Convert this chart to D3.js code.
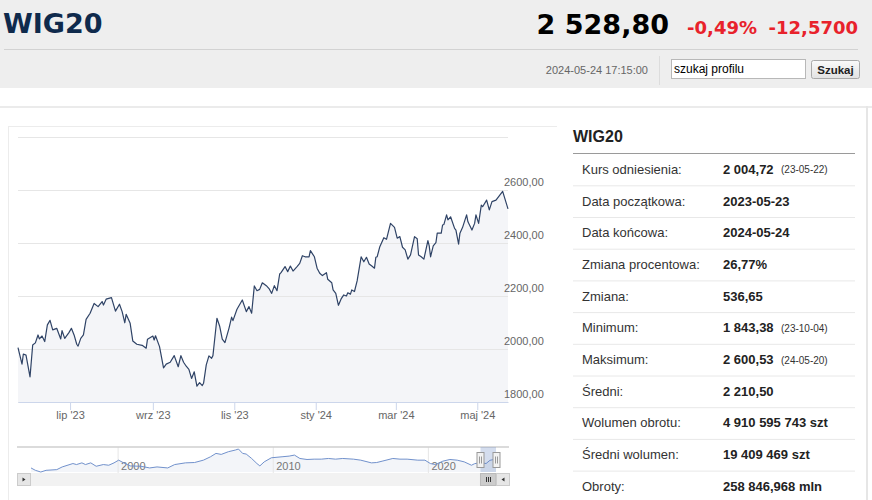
<!DOCTYPE html>
<html lang="pl">
<head>
<meta charset="utf-8">
<title>WIG20</title>
<script src="https://cdn.jsdelivr.net/npm/d3@7"></script>
<style>
  html, body { margin: 0; padding: 0; background: #fff; }
  svg { display: block; }
</style>
</head>
<body>
<div id="page"></div>
<script>
// 1. Data
const priceDates = [
  "2023-05-23","2023-05-26","2023-05-27","2023-05-29","2023-06-01","2023-06-03","2023-06-05","2023-06-07",
  "2023-06-08","2023-06-10","2023-06-12","2023-06-14","2023-06-16","2023-06-18","2023-06-21","2023-06-24",
  "2023-06-25","2023-06-27","2023-06-30","2023-07-02","2023-07-04","2023-07-06","2023-07-07","2023-07-09",
  "2023-07-11","2023-07-13","2023-07-16","2023-07-19","2023-07-22","2023-07-25","2023-07-26","2023-07-28",
  "2023-08-01","2023-08-04","2023-08-07","2023-08-09","2023-08-11","2023-08-12","2023-08-15","2023-08-17",
  "2023-08-20","2023-08-24","2023-08-27","2023-08-28","2023-09-01","2023-09-02","2023-09-03","2023-09-06",
  "2023-09-09","2023-09-11","2023-09-14","2023-09-17","2023-09-20","2023-09-22","2023-09-24","2023-09-26",
  "2023-09-28","2023-09-30","2023-10-02","2023-10-04","2023-10-06","2023-10-08","2023-10-09","2023-10-11",
  "2023-10-13","2023-10-15","2023-10-16","2023-10-19","2023-10-21","2023-10-23","2023-10-25","2023-10-28",
  "2023-10-30","2023-10-31","2023-11-03","2023-11-07","2023-11-10","2023-11-12","2023-11-14","2023-11-16",
  "2023-11-18","2023-11-20","2023-11-22","2023-11-25","2023-11-27","2023-11-29","2023-12-01","2023-12-03",
  "2023-12-05","2023-12-06","2023-12-09","2023-12-11","2023-12-13","2023-12-15","2023-12-18","2023-12-20",
  "2023-12-22","2023-12-24","2023-12-27","2023-12-28","2023-12-31","2024-01-02","2024-01-04","2024-01-06",
  "2024-01-09","2024-01-10","2024-01-13","2024-01-14","2024-01-16","2024-01-18","2024-01-20","2024-01-22",
  "2024-01-24","2024-01-25","2024-01-27","2024-01-28","2024-01-30","2024-02-01","2024-02-04","2024-02-06",
  "2024-02-08","2024-02-10","2024-02-12","2024-02-14","2024-02-15","2024-02-16","2024-02-18","2024-02-21",
  "2024-02-23","2024-02-26","2024-02-29","2024-03-02","2024-03-04","2024-03-06","2024-03-08","2024-03-10",
  "2024-03-12","2024-03-15","2024-03-17","2024-03-18","2024-03-20","2024-03-22","2024-03-25","2024-03-26",
  "2024-03-27","2024-03-29","2024-03-31","2024-04-01","2024-04-04","2024-04-05","2024-04-06","2024-04-08",
  "2024-04-09","2024-04-11","2024-04-14","2024-04-15","2024-04-17","2024-04-18","2024-04-20","2024-04-23",
  "2024-04-24","2024-04-27","2024-04-29","2024-04-30","2024-05-02","2024-05-04","2024-05-05","2024-05-08",
  "2024-05-10","2024-05-12","2024-05-15","2024-05-20","2024-05-22","2024-05-24"
];
const priceValues = [
  2005,1943,1981,1977,1895,2015,2023,2053,
  2038,2049,2028,2091,2108,2072,2078,2038,
  2069,2040,2061,2078,2053,2018,2011,2040,
  2053,2112,2135,2172,2160,2179,2166,2188,
  2194,2143,2169,2141,2099,2131,2097,2030,
  2018,2014,2003,2037,2049,2034,2050,2009,
  1929,1943,1950,1975,1933,1975,1950,1935,
  1923,1889,1914,1860,1873,1862,1871,1940,
  1974,1965,1975,2116,2087,2037,2024,2078,
  2120,2107,2150,2185,2141,2160,2135,2238,
  2220,2225,2250,2239,2228,2210,2239,2220,
  2283,2288,2311,2292,2313,2294,2311,2323,
  2352,2348,2348,2371,2348,2305,2286,2277,
  2288,2263,2250,2223,2210,2165,2189,2204,
  2200,2212,2207,2223,2217,2257,2348,2329,
  2346,2321,2313,2305,2346,2348,2386,2420,
  2414,2474,2459,2418,2424,2384,2374,2339,
  2355,2424,2416,2355,2348,2339,2409,2389,
  2348,2389,2401,2437,2437,2468,2470,2506,
  2487,2499,2455,2449,2396,2437,2459,2506,
  2480,2449,2474,2506,2474,2543,2537,2562,
  2525,2556,2562,2595,2562,2529
];

// long history shown in the navigator (fractional years)
const navYears = [
  1994.42,1994.70,1995.05,1995.39,1996.08,1996.43,1997.12,1997.35,1997.70,1997.93,
  1998.27,1998.62,1999.08,1999.43,1999.77,2000.07,2000.35,2000.81,2001.50,2002.07,
  2002.54,2003.23,2003.68,2004.37,2004.96,2005.53,2005.99,2006.34,2006.68,2007.14,
  2007.60,2007.79,2008.06,2008.29,2008.64,2008.98,2009.17,2009.45,2009.91,2010.60,
  2011.06,2011.40,2011.75,2012.21,2012.67,2013.13,2013.59,2014.05,2014.51,2015.20,
  2015.67,2016.36,2016.70,2017.05,2017.74,2018.20,2018.66,2019.35,2019.81,2020.16,
  2020.50,2020.96,2021.42,2021.89,2022.34,2022.81,2023.00,2023.20,2023.39,2023.75,
  2024.00,2024.20,2024.39
];
const navValues = [
  1268,938,704,938,1033,1409,1879,1738,1973,1738,
  1973,1503,1738,1644,1973,2349,2020,1550,1503,1268,
  1409,1268,1738,1973,2020,2349,2819,3289,3148,3524,
  3759,3900,3289,3195,2584,1879,1550,2114,2678,2819,
  2913,3054,2584,2443,2490,2490,2584,2490,2584,2490,
  2349,1973,2020,2208,2584,2490,2490,2349,2349,1879,
  1738,2208,2443,2349,2114,1644,1850,1950,2005,1880,
  2330,2420,2529
];
const navYearTicks = [2000, 2010, 2020];
const navRange = [2023.39, 2024.39];

const yTicks = [1800, 2000, 2200, 2400, 2600, 2800];
const monthNames = ["sty","lut","mar","kwi","maj","cze","lip","sie","wrz","paź","lis","gru"];

const statLabels = ["Kurs odniesienia:","Data początkowa:","Data końcowa:","Zmiana procentowa:","Zmiana:",
  "Minimum:","Maksimum:","Średni:","Wolumen obrotu:","Średni wolumen:","Obroty:"];
const statValues = ["2 004,72","2023-05-23","2024-05-24","26,77%","536,65",
  "1 843,38","2 600,53","2 210,50","4 910 595 743 szt","19 409 469 szt","258 846,968 mln"];
const statNotes = ["(23-05-22)","","","","","(23-10-04)","(24-05-20)","","","",""];

const W = 872, H = 500;
const sans = "'Liberation Sans', Arial, sans-serif";
const verd = "'DejaVu Sans', Verdana, sans-serif";

const svg = d3.select("#page").append("svg").attr("width", W).attr("height", H);

// 2. Header
svg.append("rect").attr("x", 0).attr("y", 0).attr("width", W).attr("height", 88).attr("fill", "#eeeeee");
svg.append("text").attr("x", 3).attr("y", 32.5)
  .style("font-family", verd).style("font-size", "27px").style("font-weight", "bold").style("fill", "#0f2a4c")
  .text("WIG20");
svg.append("text").attr("x", 669).attr("y", 33.5).attr("text-anchor", "end")
  .style("font-family", verd).style("font-size", "27px").style("font-weight", "bold").style("fill", "#000")
  .text("2 528,80");
svg.append("text").attr("x", 757).attr("y", 33.5).attr("text-anchor", "end")
  .style("font-family", verd).style("font-size", "18px").style("font-weight", "bold").style("fill", "#e8222b")
  .text("-0,49%");
svg.append("text").attr("x", 858).attr("y", 33.5).attr("text-anchor", "end")
  .style("font-family", verd).style("font-size", "18px").style("font-weight", "bold").style("fill", "#e8222b")
  .text("-12,5700");
svg.append("line").attr("x1", 4).attr("x2", 858).attr("y1", 49.5).attr("y2", 49.5)
  .attr("stroke", "#d2d2d2");
svg.append("text").attr("x", 648).attr("y", 74).attr("text-anchor", "end")
  .style("font-family", sans).style("font-size", "11px").style("fill", "#666")
  .text("2024-05-24 17:15:00");
svg.append("line").attr("x1", 659.5).attr("x2", 659.5).attr("y1", 56).attr("y2", 85)
  .attr("stroke", "#dcdcdc");
svg.append("rect").attr("x", 671.5).attr("y", 59.5).attr("width", 134).attr("height", 19)
  .attr("fill", "#fff").attr("stroke", "#b8b8b8");
svg.append("text").attr("x", 674).attr("y", 73)
  .style("font-family", sans).style("font-size", "12px").style("fill", "#000")
  .text("szukaj profilu");
const grad = svg.append("defs").append("linearGradient").attr("id", "btn")
  .attr("x1", 0).attr("x2", 0).attr("y1", 0).attr("y2", 1);
grad.append("stop").attr("offset", 0).attr("stop-color", "#fafafa");
grad.append("stop").attr("offset", 1).attr("stop-color", "#e2e2e2");
svg.append("rect").attr("x", 811.5).attr("y", 60.5).attr("width", 48).attr("height", 18).attr("rx", 2)
  .attr("fill", "url(#btn)").attr("stroke", "#a9a9a9");
svg.append("text").attr("x", 835.5).attr("y", 73.5).attr("text-anchor", "middle")
  .style("font-family", sans).style("font-size", "11.5px").style("font-weight", "bold").style("fill", "#222")
  .text("Szukaj");

// page frame lines
svg.append("line").attr("x1", 0).attr("x2", W).attr("y1", 107).attr("y2", 107)
  .attr("stroke", "#ebebeb").attr("stroke-width", 2);
svg.append("line").attr("x1", 867).attr("x2", 867).attr("y1", 106).attr("y2", H)
  .attr("stroke", "#e6e6e6").attr("stroke-width", 2);
svg.append("line").attr("x1", 8).attr("x2", 557).attr("y1", 126.5).attr("y2", 126.5)
  .attr("stroke", "#ececec");
svg.append("line").attr("x1", 8.5).attr("x2", 8.5).attr("y1", 126).attr("y2", H)
  .attr("stroke", "#ececec");

// 3. Main chart
const parse = d3.timeParse("%Y-%m-%d");
const prices = priceDates.map((d, i) => ({ date: parse(d), value: priceValues[i] }));

const x = d3.scaleTime()
  .domain([parse("2023-05-23"), parse("2024-05-24")])
  .range([18, 508]);
const y = d3.scaleLinear().domain([1800, 2800]).range([402, 137]);

const pl = d3.formatLocale({ decimal: ",", thousands: " ", grouping: [3], currency: ["", " zł"] });
const fmt2 = pl.format(".2f");

// area under the line first, so grid and labels stay visible
const area = d3.area().x((d) => x(d.date)).y0(y(1800)).y1((d) => y(d.value));
const line = d3.line().x((d) => x(d.date)).y((d) => y(d.value));
svg.append("path").datum(prices).attr("d", area).attr("fill", "#f4f5f8");

// gridlines + labels
const yAxis = svg.append("g")
  .attr("transform", "translate(508,0)")
  .call(d3.axisRight(y).tickValues(yTicks).tickSizeInner(-490).tickSizeOuter(0)
    .tickFormat((d) => (d === 2800 ? "" : fmt2(d))));
yAxis.select(".domain").remove();
yAxis.selectAll(".tick line").attr("stroke", "#e6e6e6");
yAxis.selectAll(".tick text")
  .attr("x", -4).attr("dy", "-0.45em")
  .attr("text-anchor", "start")
  .style("font-family", sans).style("font-size", "11px").style("fill", "#666");

svg.append("path").datum(prices).attr("d", line)
  .attr("fill", "none").attr("stroke", "#2f4366").attr("stroke-width", 1.2)
  .attr("stroke-linejoin", "round");

const xAxis = svg.append("g")
  .attr("transform", "translate(0,402)")
  .call(d3.axisBottom(x).ticks(d3.timeMonth.every(2)).tickSizeInner(8).tickSizeOuter(0)
    .tickFormat((d) => monthNames[d.getMonth()] + " '" + d3.timeFormat("%y")(d)));
xAxis.select(".domain").attr("stroke", "#ccd6eb");
xAxis.selectAll(".tick line").attr("stroke", "#ccd6eb");
xAxis.selectAll(".tick text")
  .attr("y", 9).attr("dy", "0.71em")
  .style("font-family", sans).style("font-size", "11px").style("fill", "#666");

// 4. Navigator
const navX = d3.scaleLinear().domain([1994.29, 2024.39]).range([29, 496]);
const navY = d3.scaleLinear().domain([d3.min(navValues), d3.max(navValues)]).range([472, 449]);
const navData = navYears.map((yr, i) => ({ yr, value: navValues[i] }));

svg.append("path").datum(navData)
  .attr("d", d3.area().x((d) => navX(d.yr)).y0(472).y1((d) => navY(d.value)))
  .attr("fill", "#f3f5f9");

const navAxis = svg.append("g")
  .attr("transform", "translate(0,447)")
  .call(d3.axisBottom(navX).tickValues(navYearTicks).tickSize(26).tickFormat(d3.format("d")));
navAxis.select(".domain").remove();
navAxis.selectAll(".tick line").attr("stroke", "#e6e6e6");
navAxis.selectAll(".tick text")
  .attr("x", 3).attr("y", 23).attr("dy", 0)
  .attr("text-anchor", "start")
  .style("font-family", sans).style("font-size", "11px").style("fill", "#777");

svg.append("path").datum(navData)
  .attr("d", d3.line().x((d) => navX(d.yr)).y((d) => navY(d.value)))
  .attr("fill", "none").attr("stroke", "#7191cc").attr("stroke-width", 1);

svg.append("line").attr("x1", 17).attr("x2", 509).attr("y1", 447).attr("y2", 447)
  .attr("stroke", "#cfcfcf").attr("stroke-width", 1.5);

// selected zone
const m0 = navX(navRange[0]), m1 = navX(navRange[1]);
svg.append("rect").attr("x", m0).attr("y", 447).attr("width", m1 - m0).attr("height", 25)
  .attr("fill", "rgba(102,133,194,0.28)");
[m0, m1].forEach((hx) => {
  const g = svg.append("g").attr("transform", `translate(${Math.round(hx) + 0.5},452.5)`);
  g.append("rect").attr("x", -3.5).attr("y", 0).attr("width", 7).attr("height", 15)
    .attr("fill", "#f2f2f2").attr("stroke", "#999");
  g.append("line").attr("x1", -1).attr("x2", -1).attr("y1", 4).attr("y2", 11).attr("stroke", "#999");
  g.append("line").attr("x1", 1).attr("x2", 1).attr("y1", 4).attr("y2", 11).attr("stroke", "#999");
});

// scrollbar
svg.append("rect").attr("x", 17).attr("y", 473).attr("width", 492).attr("height", 13)
  .attr("fill", "#f2f2f2");
svg.append("rect").attr("x", m0).attr("y", 473.5).attr("width", m1 - m0).attr("height", 12)
  .attr("fill", "#cccccc").attr("stroke", "#bbbbbb");
[-2, 0, 2].forEach((dx) => {
  const cx = Math.round((m0 + m1) / 2) + dx + 0.5;
  svg.append("line").attr("x1", cx).attr("x2", cx).attr("y1", 477).attr("y2", 482).attr("stroke", "#333");
});
[[17, -1], [496, 1]].forEach(([bx, dir]) => {
  svg.append("rect").attr("x", bx + 0.5).attr("y", 473.5).attr("width", 13).attr("height", 12)
    .attr("fill", "#e6e6e6").attr("stroke", "#cccccc");
  const cx = bx + 7, cy = 479.5;
  svg.append("path")
    .attr("d", `M${cx + dir * 1.5},${cy - 2}L${cx - dir * 1.5},${cy}L${cx + dir * 1.5},${cy + 2}Z`)
    .attr("fill", "#333");
});

// 5. Statistics panel
svg.append("text").attr("x", 573).attr("y", 142)
  .style("font-family", sans).style("font-size", "16px").style("font-weight", "bold").style("fill", "#222")
  .text("WIG20");
svg.append("line").attr("x1", 573).attr("x2", 855).attr("y1", 153.5).attr("y2", 153.5)
  .attr("stroke", "#9a9a9a");

const rowY = d3.scaleLinear().domain([0, statLabels.length - 1]).range([169.3, 486.3]);
const rows = svg.selectAll(".stat").data(statLabels).enter().append("g")
  .attr("class", "stat")
  .attr("transform", (d, i) => `translate(0,${rowY(i)})`);
rows.filter((d, i) => i < statLabels.length - 1).append("line")
  .attr("x1", 573).attr("x2", 855).attr("y1", 16.5).attr("y2", 16.5)
  .attr("stroke", "#e8e8e8");
rows.append("text").attr("x", 582).attr("y", 4.5)
  .style("font-family", sans).style("font-size", "13px").style("fill", "#333")
  .text((d) => d);
rows.append("text").attr("x", 723).attr("y", 4.5)
  .style("font-family", sans).style("font-size", "13px").style("font-weight", "bold").style("fill", "#222")
  .text((d, i) => statValues[i]);
rows.append("text").attr("x", 781).attr("y", 4)
  .style("font-family", sans).style("font-size", "10px").style("fill", "#333")
  .text((d, i) => statNotes[i]);
</script>
</body>
</html>
